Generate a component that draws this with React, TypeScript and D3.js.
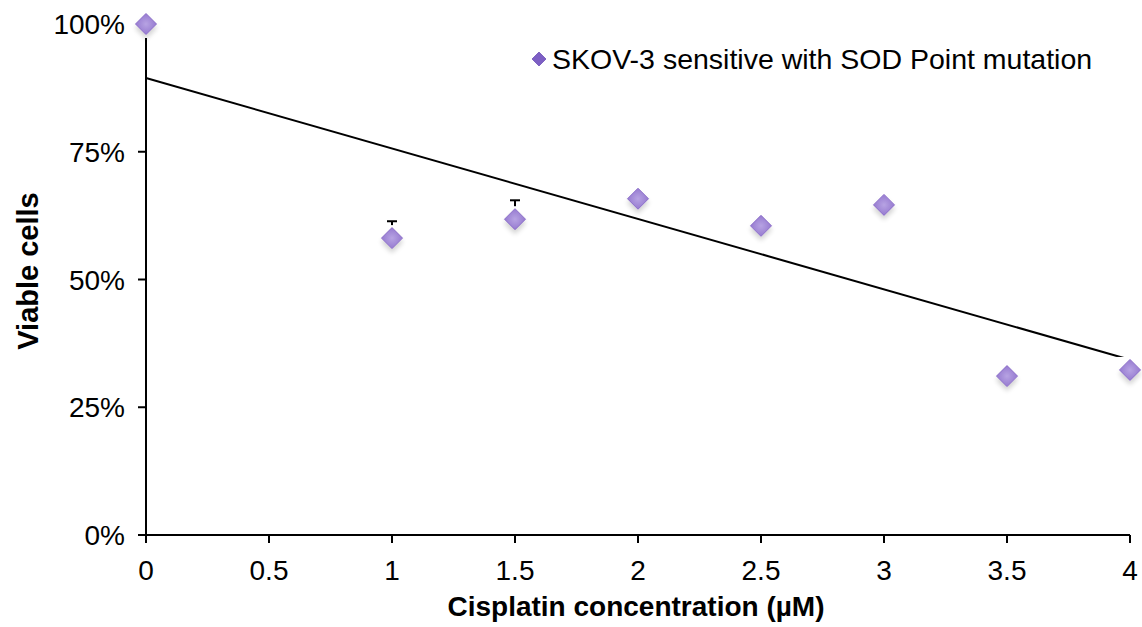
import React from "react";
import * as d3 from "d3";

const concentrations = [0, 1, 1.5, 2, 2.5, 3, 3.5, 4];
const viable = [1.0, 0.581, 0.618, 0.658, 0.605, 0.646, 0.311, 0.323];
const errPlus = [0, 0.033, 0.037, 0, 0, 0, 0, 0];
const xTicks = [0, 0.5, 1, 1.5, 2, 2.5, 3, 3.5, 4];
const yTicks = [0, 0.25, 0.5, 0.75, 1];
const seriesName = "SKOV-3 sensitive with SOD Point mutation";
const xTitle = "Cisplatin concentration (µM)";
const yTitle = "Viable cells";

const W = 1142;
const H = 627;
const FONT = "'Liberation Sans', Arial, sans-serif";

export default function App() {
  const x = d3.scaleLinear().domain([0, 4]).range([146, 1130]);
  const y = d3.scaleLinear().domain([0, 1]).range([535, 24]);

  // least squares trendline
  const mx = d3.mean(concentrations) as number;
  const my = d3.mean(viable) as number;
  let sxy = 0, sxx = 0;
  concentrations.forEach((c, i) => {
    sxy += (c - mx) * (viable[i] - my);
    sxx += (c - mx) * (c - mx);
  });
  const slope = sxy / sxx;
  const icpt = my - slope * mx;
  const line = d3.line<number>().x((d) => x(d)).y((d) => y(icpt + slope * d));

  const r = 10.5;
  const diamond = (cx: number, cy: number, rr: number) =>
    `M${cx},${cy - rr}L${cx + rr},${cy}L${cx},${cy + rr}L${cx - rr},${cy}Z`;

  return (
    <svg width={W} height={H} style={{ position: "absolute", left: 0, top: 0, background: "#fff" }}>
      <defs>
        <radialGradient id="mk" cx="50%" cy="50%" r="60%">
          <stop offset="0%" stopColor="#b7a3e3" />
          <stop offset="100%" stopColor="#8f72cc" />
        </radialGradient>
        <filter id="sh" x="-50%" y="-50%" width="200%" height="200%">
          <feGaussianBlur in="SourceAlpha" stdDeviation="2.5" />
          <feOffset dx="0" dy="4" result="b" />
          <feComponentTransfer>
            <feFuncA type="linear" slope="0.18" />
          </feComponentTransfer>
          <feMerge>
            <feMergeNode />
            <feMergeNode in="SourceGraphic" />
          </feMerge>
        </filter>
      </defs>
      <rect width={W} height={H} fill="#fff" />

      {/* axes */}
      <line x1={x(0)} x2={x(4)} y1={y(0)} y2={y(0)} stroke="#000" strokeWidth={2} />
      <line x1={x(0)} x2={x(0)} y1={y(0)} y2={y(1)} stroke="#000" strokeWidth={2} />
      {yTicks.map((t) => (
        <g key={"y" + t}>
          <line x1={x(0) - 8} x2={x(0)} y1={y(t)} y2={y(t)} stroke="#000" strokeWidth={2} />
          <text x={x(0) - 21} y={y(t)} dy="0.36em" textAnchor="end" fontFamily={FONT} fontSize={28} fill="#000">
            {d3.format(".0%")(t)}
          </text>
        </g>
      ))}
      {xTicks.map((t) => (
        <g key={"x" + t}>
          <line x1={x(t)} x2={x(t)} y1={y(0)} y2={y(0) + 8} stroke="#000" strokeWidth={2} />
          <text x={x(t)} y={y(0) + 45} textAnchor="middle" fontFamily={FONT} fontSize={28} fill="#000">
            {String(t)}
          </text>
        </g>
      ))}

      {/* titles */}
      <text x={636} y={616} textAnchor="middle" fontFamily={FONT} fontSize={28} fontWeight="bold">
        {xTitle}
      </text>
      <text
        transform={`translate(38,${271}) rotate(-90)`}
        textAnchor="middle"
        fontFamily={FONT}
        fontSize={29}
        fontWeight="bold"
      >
        {yTitle}
      </text>

      {/* trendline */}
      <path d={line([0, 4]) as string} fill="none" stroke="#000" strokeWidth={2} />

      {/* error bars */}
      {concentrations.map((c, i) =>
        errPlus[i] > 0 ? (
          <g key={"e" + i} stroke="#000" strokeWidth={2}>
            <line x1={x(c)} x2={x(c)} y1={y(viable[i])} y2={y(viable[i] + errPlus[i])} />
            <line x1={x(c) - 5} x2={x(c) + 5} y1={y(viable[i] + errPlus[i])} y2={y(viable[i] + errPlus[i])} />
          </g>
        ) : null
      )}

      {/* markers */}
      {concentrations.map((c, i) => (
        <g key={"m" + i}>
          <rect x={x(c) - 14} y={y(viable[i]) - 13} width={28} height={27} fill="#fff" />
          <path
            d={diamond(x(c), y(viable[i]), r)}
            fill="url(#mk)"
            stroke="#8a6cc8"
            strokeWidth={1}
            filter="url(#sh)"
          />
        </g>
      ))}

      {/* legend */}
      <path d={diamond(539, 59, 7)} fill="#7d5fc4" stroke="#6e50b8" strokeWidth={0.8} />
      <text x={552} y={69} fontFamily={FONT} fontSize={28.5} fill="#000">
        {seriesName}
      </text>
    </svg>
  );
}
